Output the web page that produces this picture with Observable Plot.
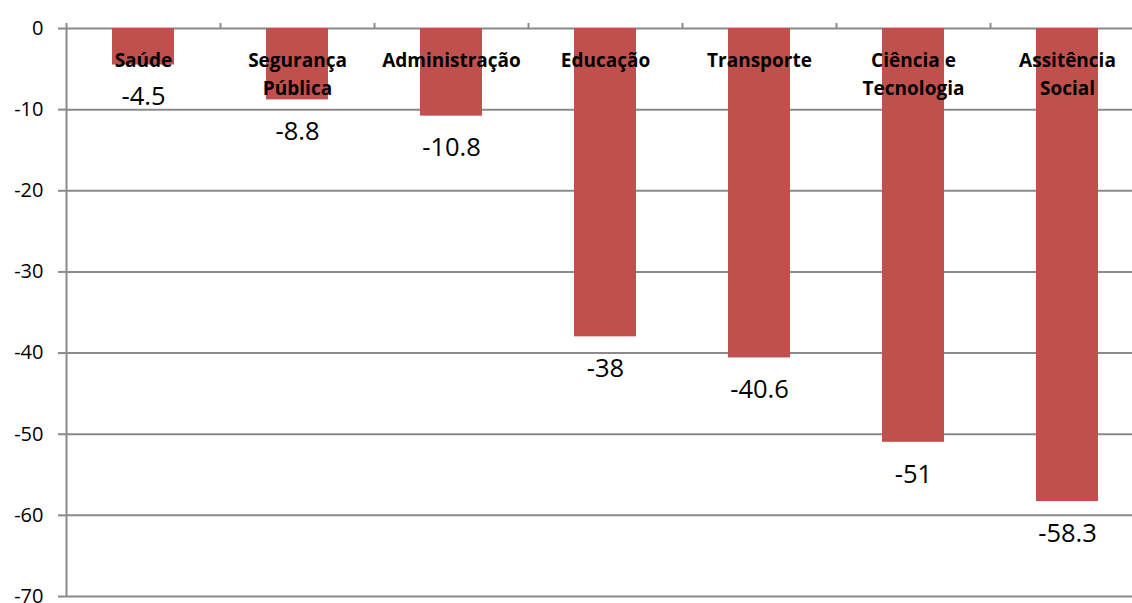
<!DOCTYPE html>
<html>
<head>
<meta charset="utf-8">
<script src="https://cdn.jsdelivr.net/npm/d3@7"></script>
<script src="https://cdn.jsdelivr.net/npm/@observablehq/plot@0.6"></script>
<style>
  html, body { margin: 0; padding: 0; background: #fff; overflow: hidden; }
  #chart svg { font-family: "Open Sans", "Noto Sans", sans-serif; color: #000; }
</style>
</head>
<body>
<div id="chart"></div>
<script>
const categories = ["Saúde", "Segurança Pública", "Administração", "Educação", "Transporte", "Ciência e Tecnologia", "Assitência Social"];
const categoryLabels = ["Saúde", "Segurança\nPública", "Administração", "Educação", "Transporte", "Ciência e\nTecnologia", "Assitência\nSocial"];
const values = [-4.5, -8.8, -10.8, -38, -40.6, -51, -58.3];
const valueLabels = ["-4.5", "-8.8", "-10.8", "-38", "-40.6", "-51", "-58.3"];
const yTicks = [0, -10, -20, -30, -40, -50, -60, -70];

const data = categories.map((c, i) => ({cat: c, label: categoryLabels[i], value: values[i], text: valueLabels[i]}));

const gridColor = "#8a8a8a";
const halfStep = 77;

const chart = Plot.plot({
  width: 1132,
  height: 603,
  marginLeft: 66,
  marginRight: -12,
  marginTop: 28,
  marginBottom: 7,
  style: {background: "#fff", color: "#000", overflow: "visible"},
  x: {domain: categories, paddingInner: 0.6, paddingOuter: 0.3, axis: null},
  y: {domain: [-70, 0], ticks: yTicks, tickFormat: d => String(d), label: null},
  marks: [
    Plot.ruleY(yTicks, {stroke: gridColor, strokeWidth: 2}),
    Plot.axisY({ticks: yTicks, tickFormat: d => String(d), tickSize: 8, tickPadding: 15, fontSize: 20, stroke: gridColor, strokeWidth: 2, label: null}),
    Plot.barY(data, {x: "cat", y1: 0, y2: "value", fill: "#C0504D"}),
    Plot.ruleX(categories, {x: d => d, dx: -halfStep, y1: 0, y2: 0, insetBottom: 5, stroke: gridColor, strokeWidth: 2}),
    Plot.ruleX([categories[0]], {x: d => d, dx: -halfStep, y1: 0, y2: -70, stroke: gridColor, strokeWidth: 2}),
    Plot.text(data, {x: "cat", y: 0, text: "label", dy: 19, lineAnchor: "top", fontWeight: "bold", fontSize: 19, lineHeight: 1.45, fill: "#000"}),
    Plot.text(data, {x: "cat", y: "value", text: "text", dy: 32, fontSize: 25.5, fill: "#000"})
  ]
});
document.getElementById("chart").appendChild(chart);
</script>
</body>
</html>
